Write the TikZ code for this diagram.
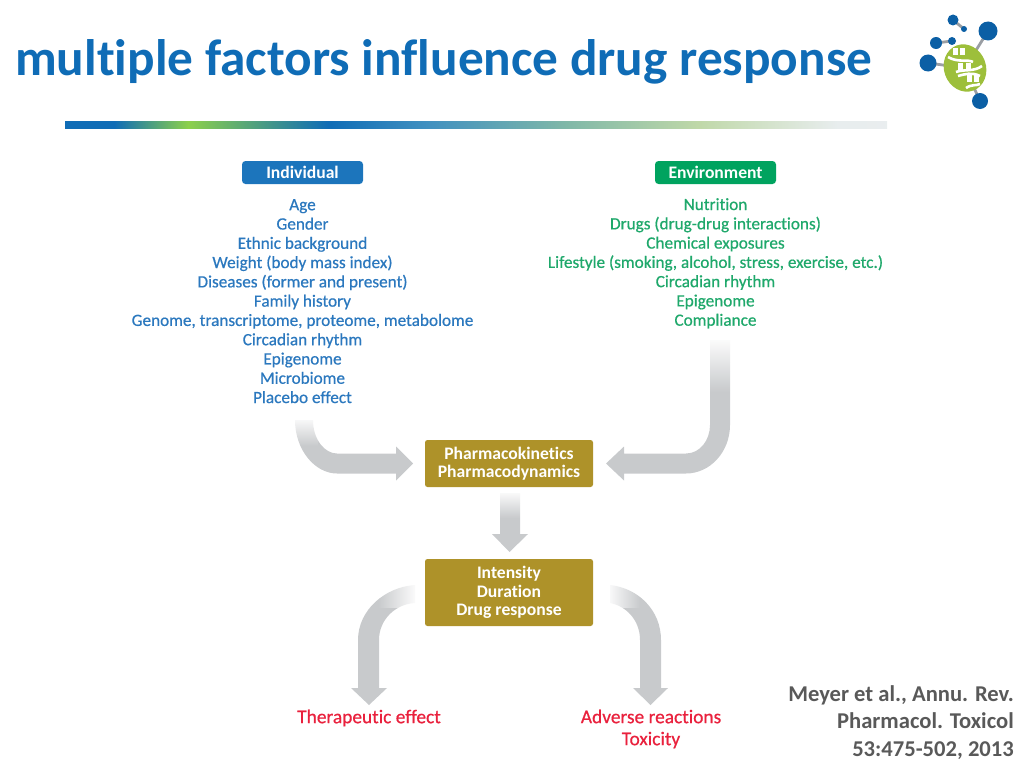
\documentclass[tikz,border=0pt]{standalone}
\usepackage{fontspec}
\setmainfont{Carlito}[Ligatures=NoCommon]
\newfontfamily\listfont{Carlito}[Ligatures=NoCommon,FakeBold=0.6]
\usetikzlibrary{positioning}
\usetikzlibrary{calc}
\usetikzlibrary{fadings}

\definecolor{titleblue}{HTML}{0F6CB6}
\definecolor{rulegreen}{HTML}{8CD04C}
\definecolor{ruleskyblue}{HTML}{4090C0}
\definecolor{ruleteal}{HTML}{80B8A8}
\definecolor{rulesage}{HTML}{BFD8A8}
\definecolor{rulepale}{HTML}{E8EDEE}
\definecolor{rulefaint}{HTML}{F0F2F4}
\definecolor{listblue}{HTML}{2B78BE}
\definecolor{listgreen}{HTML}{1FA86B}
\definecolor{boxblue}{HTML}{1C75BC}
\definecolor{boxgreen}{HTML}{00A35F}
\definecolor{boxgold}{HTML}{AE9229}
\definecolor{arrowgray}{HTML}{C8CACC}
\definecolor{effectred}{HTML}{E9213D}
\definecolor{citegray}{HTML}{595959}
\definecolor{logoblue}{HTML}{0B5FA5}
\definecolor{logogreen}{HTML}{9DBF3B}
\definecolor{logogray}{HTML}{9A9EA3}

\pgfdeclarehorizontalshading{ruleshade}{100bp}{
  color(0bp)=(titleblue);
  color(28bp)=(titleblue);
  color(32.5bp)=(rulegreen);
  color(41bp)=(titleblue);
  color(47bp)=(ruleskyblue);
  color(55.5bp)=(ruleteal);
  color(63.5bp)=(rulesage);
  color(72bp)=(rulepale);
  color(100bp)=(rulefaint)}

\tikzset{
  headbox/.style={rounded corners=3.5pt,minimum width=121pt,minimum height=23pt,inner sep=0pt,
    text=white,font=\fontsize{17.6}{19}\selectfont\bfseries},
  goldbox/.style={fill=boxgold,rounded corners=2.5pt,minimum width=168pt,inner sep=0pt,
    text=white,align=center,font=\fontsize{17.6}{18.4}\selectfont\bfseries},
  listtext/.style={align=center,inner sep=0pt,font=\listfont\fontsize{17.2}{19.28}\selectfont},
  effect/.style={text=effectred,align=center,inner sep=0pt,font=\listfont\fontsize{19.4}{22}\selectfont},
  blockarrow/.style={fill=arrowgray},
  logobond/.style={logogray,line width=2.8pt},
  helix/.style={white,line width=2.6pt}
}

\begin{document}
\begin{tikzpicture}[x=1pt,y=-1pt]
\useasboundingbox (0,0) rectangle (1024,768);

\node[anchor=west,inner sep=0pt,text=titleblue,font=\fontsize{51.3}{54}\selectfont\bfseries] (title) at (15,62) {multiple factors influence drug response};
\shade[shading=ruleshade] (65,121) rectangle (887,128);

\node[headbox,fill=boxblue] (individual) at (302.5,172.5) {Individual};
\node[headbox,fill=boxgreen] (environment) at (715.5,172.5) {Environment};

\node[listtext,text=listblue,anchor=north] (indivlist) at (302.5,199) {Age\\Gender\\Ethnic background\\Weight (body mass index)\\Diseases (former and present)\\Family history\\Genome, transcriptome, proteome, metabolome\\Circadian rhythm\\Epigenome\\Microbiome\\Placebo effect};
\node[listtext,text=listgreen,anchor=north] (envlist) at (715.5,198) {Nutrition\\Drugs (drug-drug interactions)\\Chemical exposures\\Lifestyle (smoking, alcohol, stress, exercise, etc.)\\Circadian rhythm\\Epigenome\\Compliance};

%arrow into pharma from the left
\fill[blockarrow] (413,463.5) -- ++(-17,-17) -- ++(0,7) -- (337,453.5)
	.. controls (325,453.5) and (313,440) .. (313,420) -- (295,420)
	.. controls (295,450) and (315,473.5) .. (337,473.5) -- (396,473.5) -- ++(0,7) -- cycle;
\fill[white,path fading=south] (290,416) rectangle (318,446);
%arrow into pharma from the right
\fill[blockarrow] (606,463.5) -- ++(18,-17) -- ++(0,7) -- (686,453.5)
	.. controls (700,453.5) and (710,440) .. (710,425) -- (710,340) -- (730,340) -- (730,425)
	.. controls (730,452) and (710,473.5) .. (686,473.5) -- (624,473.5) -- ++(0,7) -- cycle;
\fill[white,path fading=south] (706,336) rectangle (734,392);
%arrow between the gold boxes
\fill[blockarrow] (509.5,552) -- ++(-17.5,-18) -- ++(8,0) -- ++(0,-41) -- ++(20,0) -- ++(0,41) -- ++(8,0) -- cycle;
\fill[white,path fading=south] (496,490) rectangle (524,518);
%arrows out of response
\fill[blockarrow] (369,705) -- ++(-18,-17) -- ++(7,0) -- (358,640)
	.. controls (358,610) and (385,587) .. (415,585) -- (415,603)
	.. controls (395,604) and (379,620) .. (379,640) -- (379,688) -- ++(8,0) -- cycle;
\fill[white,path fading=west] (418,580) rectangle (378,608);
\fill[blockarrow] (650.5,705) -- ++(-17.5,-17) -- ++(7,0) -- (640,640)
	.. controls (640,620) and (626,606) .. (610,603) -- (610,585)
	.. controls (638,588) and (661,610) .. (661,640) -- (661,688) -- ++(7,0) -- cycle;
\fill[white,path fading=east] (606,580) rectangle (640,608);

\node[goldbox,minimum height=47pt] (pharma) at (509,463.5) {Pharmacokinetics\\Pharmacodynamics};
\node[goldbox,minimum height=67pt] (response) at (509,592.5) {Intensity\\Duration\\Drug response};

\node[effect] (therapeutic) at (369,718) {Therapeutic effect};
\node[effect] (adverse) at (651,729) {Adverse reactions\\Toxicity};

\node[anchor=east,align=right,inner sep=0pt,text=citegray,font=\fontsize{22.6}{27.5}\selectfont\bfseries] (cite) at (1014,722.5) {Meyer et al., Annu. Rev.\\Pharmacol. Toxicol\\53:475-502, 2013};

%logo
\draw[logobond] (953,20) -- (964,29);
\draw[logobond] (936,43) -- (952,41);
\draw[logobond] (928,63) -- (965,68);
\draw[logobond] (988,31) -- (965,68) -- (980,101);
\fill[logogreen,rotate around={20:(965,68)}] (965,68) ellipse (21 and 24);
\foreach \r in {(955,52),(962,52),(960,66),(968,66),(969,78),(976,78)}
	\fill[white] \r ++(-2.5,-3.5) rectangle ++(5,7);
\draw[helix] (948,57) .. controls (958,63) and (968,59) .. (973,62);
\draw[helix] (956,72) .. controls (964,69) and (974,72) .. (982,66);
\draw[helix] (958,76) .. controls (965,74) and (972,72) .. (980,76);
\draw[helix] (966,88) .. controls (972,84) and (976,86) .. (980,84);
\foreach \c/\r in {(953,20)/5.5,(964,29)/3,(988,31)/9.5,(936,43)/6,(952,41)/4,(928,63)/8.5,(980,101)/8}
	\fill[logoblue] \c circle (\r);

\end{tikzpicture}
\end{document}
